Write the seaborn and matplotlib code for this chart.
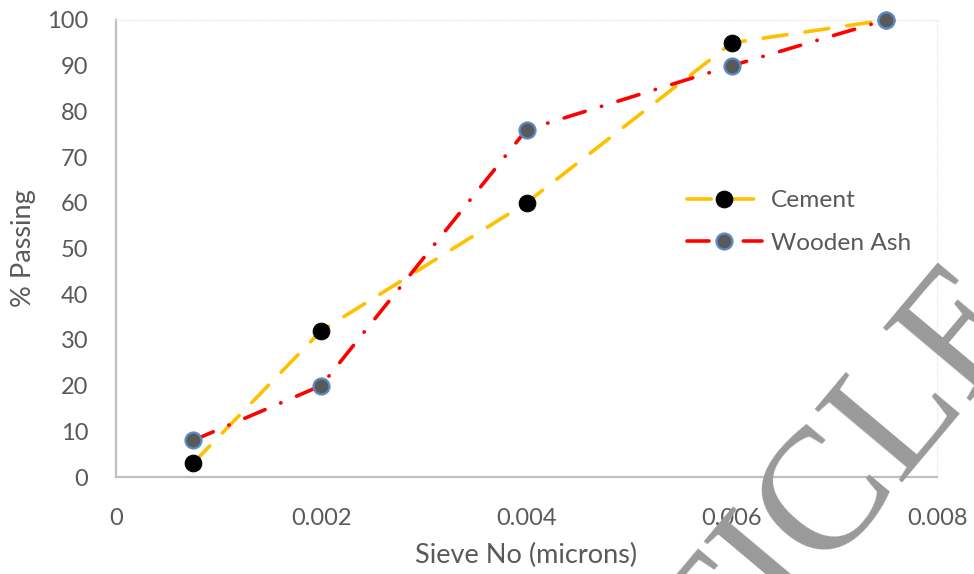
import matplotlib
matplotlib.use("Agg")
import matplotlib.pyplot as plt
import seaborn as sns
import pandas as pd

sieve = [0.00075, 0.002, 0.004, 0.006, 0.0075]
cement = [3, 32, 60, 95, 100]
wooden_ash = [8, 20, 76, 90, 100]
x_ticks = [0, 0.002, 0.004, 0.006, 0.008]
x_tick_labels = ["0", "0.002", "0.004", "0.006", "0.008"]
y_ticks = list(range(0, 101, 10))

sns.set_theme(style="white")
plt.rcParams['font.family'] = ['Lato', 'DejaVu Sans']

fig = plt.figure(figsize=(9.74, 5.74), dpi=100)
ax = fig.add_axes([116/974, 1-477/574, (937-116)/974, (477-20)/574])

df_c = pd.DataFrame({"x": sieve, "y": cement})
df_w = pd.DataFrame({"x": sieve, "y": wooden_ash})

sns.lineplot(data=df_c, x="x", y="y", ax=ax, color="#FFC000", linewidth=2.6,
             marker="o", markersize=12, markerfacecolor="black", markeredgecolor="black",
             label="Cement", clip_on=False, zorder=3)
sns.lineplot(data=df_w, x="x", y="y", ax=ax, color="#FF0000", linewidth=2.6,
             marker="o", markersize=11.5, markerfacecolor="#595959", markeredgecolor="#5B8BC9",
             markeredgewidth=1.6, label="Wooden Ash", clip_on=False, zorder=4)

lines = ax.get_lines()
lines[0].set_dashes((6.7, 5.0))
lines[0].set_dash_capstyle("round")
lines[1].set_dashes((6.1, 4.7, 0.1, 4.7))
lines[1].set_dash_capstyle("round")

ax.set_xlim(0, 0.008)
ax.set_ylim(0, 100)
ax.set_xticks(x_ticks)
ax.set_xticklabels(x_tick_labels)
ax.set_yticks(y_ticks)
ax.tick_params(axis="both", length=0, labelsize=17, colors="#595959")
ax.tick_params(axis="y", pad=20)
ax.tick_params(axis="x", pad=22)

for s in ["left", "bottom"]:
    ax.spines[s].set_color("#BFBFBF")
    ax.spines[s].set_linewidth(1.6)
for s in ["top", "right"]:
    ax.spines[s].set_color("#EDEDED")
    ax.spines[s].set_linewidth(0.8)
    ax.spines[s].set_linestyle((0, (3, 2)))
ax.grid(False)

ax.set_xlabel("Sieve No (microns)", fontsize=19.5, color="#595959", labelpad=10)
ax.set_ylabel("% Passing", fontsize=19.5, color="#595959", labelpad=8)

leg = ax.legend(loc="upper left", bbox_to_anchor=(665/974, 1-168/574),
                bbox_transform=fig.transFigure, frameon=False, fontsize=17.6,
                handlelength=3.05, labelspacing=0.88, handletextpad=0.4)
for t in leg.get_texts():
    t.set_color("#595959")

fig.text(771/974, 1-572/574, "ARTICLE", fontsize=125, family="Liberation Serif",
         color="#9A9A9A", rotation=50, rotation_mode="anchor",
         ha="center", va="center", zorder=100)

fig.savefig("out.png", dpi=100)
